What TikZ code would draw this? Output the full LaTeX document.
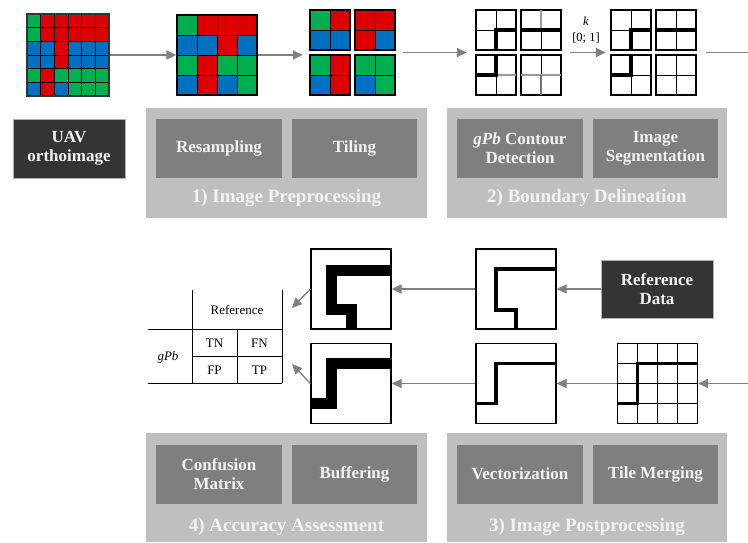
\documentclass[tikz,border=0pt]{standalone}
\usepackage{fontspec}
\setmainfont{Liberation Serif}
\usepackage{xcolor}
\usepackage{tikz}
\usetikzlibrary{arrows.meta,positioning,calc}
\definecolor{pixR}{RGB}{222,0,0}
\definecolor{pixG}{RGB}{0,176,80}
\definecolor{pixB}{RGB}{0,112,192}
\definecolor{groupgray}{RGB}{191,191,191}
\definecolor{stepgray}{RGB}{127,127,127}
\definecolor{datagray}{RGB}{52,52,52}
\definecolor{arrowgray}{RGB}{128,128,128}
\definecolor{labelwhite}{RGB}{242,242,242}

% raster of coloured cells: #1 cell size, #2 rows
\newcommand{\pixraster}[2]{%
  \foreach \pixrow [count=\j from 0] in {#2}{%
    \foreach \pix [count=\i from 0] in \pixrow
      \fill[fill=pix\pix] (\i*#1,\j*#1) rectangle ++(#1,#1);
  }}
% cell lines: #1 cells per side, #2 cell size
\newcommand{\cellgrid}[2]{%
  \foreach \k in {1,...,#1}{%
    \draw[line width=0.7pt] (\k*#2,0) -- ++(0,#1*#2);
    \draw[line width=0.7pt] (0,\k*#2) -- ++(#1*#2,0);
  }
  \draw[line width=1.3pt] (0,0) rectangle (#1*#2,#1*#2);}

\begin{document}
\begin{tikzpicture}[x=1pt, y=-1pt,
    stepbox/.style={fill=stepgray, text=labelwhite, align=center, inner sep=0pt,
      minimum height=59pt, font=\bfseries\fontsize{17}{19}\selectfont},
    databox/.style={stepbox, fill=datagray, draw=gray!60, line width=0.6pt},
    groupbox/.style={fill=groupgray, inner sep=0pt},
    grouplabel/.style={text=labelwhite, inner sep=0pt, font=\bfseries\fontsize{19}{21}\selectfont},
    imgbox/.style={draw, line width=1.3pt, minimum size=80pt, inner sep=0pt},
    tilegroup/.style={minimum size=85pt, inner sep=0pt},
    flow/.style={arrowgray, line width=1.6pt, -{Triangle[length=10pt,width=9pt]}},
    boundary/.style={line width=3.2pt},
    weakgray/.style={line width=2.8pt, black!40},
    bufferline/.style={line width=11pt},
    cmtext/.style={font=\fontsize{13}{15}\selectfont}]

    \fill[white] (0,0) rectangle (748,542);
    \useasboundingbox (0,0) rectangle (748,542);

    % UAV orthoimage
    \begin{scope}[shift={(27,14)}]
      \pixraster{13.667}{{G,R,R,R,R,R},{G,R,R,R,R,R},{B,B,R,B,B,B},{B,B,R,B,B,B},{G,R,G,G,G,G},{B,R,B,G,G,G}}
      \cellgrid{6}{13.667}
    \end{scope}
    \node[imgbox, minimum size=82pt, line width=2pt, draw=datagray] (ortho) at (68,55) {};

    % Resampled image
    \begin{scope}[shift={(177,15)}]
      \pixraster{20}{{G,R,R,R},{B,B,R,B},{G,R,G,G},{B,R,B,G}}
      \cellgrid{4}{20}
    \end{scope}
    \node[imgbox] (resamp) at (217,55) {};

    % Tiles
    \begin{scope}[shift={(310,10)}] \pixraster{20}{{G,R},{B,B}} \cellgrid{2}{20} \end{scope}
    \begin{scope}[shift={(355,10)}] \pixraster{20}{{R,R},{R,B}} \cellgrid{2}{20} \end{scope}
    \begin{scope}[shift={(310,55)}] \pixraster{20}{{G,R},{B,R}} \cellgrid{2}{20} \end{scope}
    \begin{scope}[shift={(355,55)}] \pixraster{20}{{G,G},{B,G}} \cellgrid{2}{20} \end{scope}
    \node[tilegroup] (tiles) at (352.5,52.5) {};

    % gPb contour tiles
    \begin{scope}[shift={(476,10)}] \cellgrid{2}{20} \draw[boundary] (40,20) -- (20,20) -- (20,40); \end{scope}
    \begin{scope}[shift={(521,10)}] \cellgrid{2}{20} \draw[weakgray] (20,0) -- (20,20); \draw[boundary] (0,20) -- (40,20); \end{scope}
    \begin{scope}[shift={(476,55)}] \cellgrid{2}{20} \draw[weakgray] (20,20) -- (40,20); \draw[boundary] (20,0) -- (20,20) -- (0,20); \end{scope}
    \begin{scope}[shift={(521,55)}] \cellgrid{2}{20} \draw[weakgray] (0,20) -- (40,20); \draw[weakgray, black!55] (20,20) -- (20,40); \end{scope}
    \node[tilegroup] (gpbtiles) at (518.5,52.5) {};

    % Segmented tiles
    \begin{scope}[shift={(611,10)}] \cellgrid{2}{20} \draw[boundary] (40,20) -- (20,20) -- (20,40); \end{scope}
    \begin{scope}[shift={(656,10)}] \cellgrid{2}{20} \draw[boundary] (0,20) -- (40,20); \end{scope}
    \begin{scope}[shift={(611,55)}] \cellgrid{2}{20} \draw[boundary] (20,0) -- (20,20) -- (0,20); \end{scope}
    \begin{scope}[shift={(656,55)}] \cellgrid{2}{20} \end{scope}
    \node[tilegroup] (segtiles) at (653.5,52.5) {};

    % Top arrows
    \coordinate (outtop) at (748,52.5);
    \draw[flow] (ortho) -- (resamp);
    \draw[flow, shorten >=7pt] (resamp.east) -- (resamp.east -| tiles.west);
    \draw[flow, shorten <=8pt, shorten >=9pt] (tiles) -- (gpbtiles);
    \draw[flow, shorten <=9pt, shorten >=5pt] (gpbtiles) -- node[above=5pt, align=center, text=black, font=\fontsize{12.5}{16}\selectfont] {\textit{k}\\{[0; 1]}} (segtiles);
    \draw[arrowgray, line width=1.6pt, shorten <=10pt] (segtiles) -- (outtop);

    % Steps 1 and 2
    \node[databox, minimum width=112pt] (uav) at (69,148.5) {UAV\\orthoimage};
    \node[groupbox, minimum width=281pt, minimum height=110pt] (preproc) at (286.5,163) {};
    \node[stepbox, minimum width=126pt] (resampling) at (219,148.5) {Resampling};
    \node[stepbox, minimum width=125pt] (tiling) at (354.5,148.5) {Tiling};
    \node[grouplabel] (preproclabel) at (286.5,198) {1) Image Preprocessing};
    \node[groupbox, minimum width=280pt, minimum height=110pt] (delin) at (587,163) {};
    \node[stepbox, minimum width=126pt] (gpb) at (520,148.5) {\textit{gPb} Contour\\Detection};
    \node[stepbox, minimum width=125pt] (segment) at (655.5,148.5) {Image\\Segmentation};
    \node[grouplabel] (delinlabel) at (587,198) {2) Boundary Delineation};

    % Buffered and vectorized boundaries
    \node[imgbox] (buf1) at (351,289) {};
    \node[imgbox] (buf2) at (351,383.5) {};
    \node[imgbox] (vec1) at (516,289) {};
    \node[imgbox] (vec2) at (516,383.5) {};
    \node[databox, minimum width=112pt, minimum height=58pt] (refdata) at (657,289) {Reference\\Data};
    \node[imgbox] (merged) at (657.5,383.5) {};
    \begin{scope}[shift={(311,249)}] \draw[bufferline] (80,21) -- (20,21) -- (20,60) -- (40,60) -- (40,80); \end{scope}
    \begin{scope}[shift={(311,343.5)}] \draw[bufferline] (80,20) -- (20,20) -- (20,60) -- (0,60); \end{scope}
    \begin{scope}[shift={(476,249)}] \draw[boundary] (80,20) -- (20,20) -- (20,61) -- (40,61) -- (40,80); \end{scope}
    \begin{scope}[shift={(476,343.5)}] \draw[boundary] (80,20) -- (20,20) -- (20,60) -- (0,60); \end{scope}
    \begin{scope}[shift={(617.5,343.5)}] \cellgrid{4}{20} \draw[boundary] (80,20) -- (20,20) -- (20,60) -- (0,60); \end{scope}

    % Confusion matrix
    \draw[line width=0.9pt] (192,290) -- (192,383) (282,290) -- (282,383) (237,329) -- (237,383)
      (148,329) -- (282,329) (192,356) -- (282,356) (148,383) -- (282,383);
    \node[cmtext] (cmref) at (237,310) {Reference};
    \node[cmtext] (cmtn) at (214.5,343) {TN};
    \node[cmtext] (cmfn) at (259.5,343) {FN};
    \node[cmtext] (cmfp) at (214.5,370) {FP};
    \node[cmtext] (cmtp) at (259.5,370) {TP};
    \node[cmtext] (cmgpb) at (168,357) {\textit{gPb}};

    % Middle arrows
    \coordinate (cmtop) at (292,308);
    \coordinate (cmbot) at (292,364);
    \coordinate (inbot) at (748,383.5);
    \draw[flow, line width=1.3pt] (buf1.west) -- (cmtop);
    \draw[flow, line width=1.3pt] (buf2.west) -- (cmbot);
    \draw[flow] (vec1) -- (buf1);
    \draw[flow] (vec2) -- (buf2);
    \draw[flow] (refdata) -- (vec1);
    \draw[flow] (merged) -- (vec2);
    \draw[flow] (inbot) -- (merged);

    % Steps 4 and 3
    \node[groupbox, minimum width=281pt, minimum height=109pt, anchor=north] (assess) at (286.5,433) {};
    \node[stepbox, minimum width=126pt] (confusion) at (219,474) {Confusion\\Matrix};
    \node[stepbox, minimum width=125pt] (buffering) at (354.5,474) {Buffering};
    \node[grouplabel] (assesslabel) at (286.5,527) {4) Accuracy Assessment};
    \node[groupbox, minimum width=280pt, minimum height=109pt, anchor=north] (postproc) at (587,433) {};
    \node[stepbox, minimum width=126pt] (vectorize) at (520,474) {Vectorization};
    \node[stepbox, minimum width=125pt] (tilemerge) at (655.5,474) {Tile Merging};
    \node[grouplabel] (postproclabel) at (587,527) {3) Image Postprocessing};
\end{tikzpicture}
\end{document}
